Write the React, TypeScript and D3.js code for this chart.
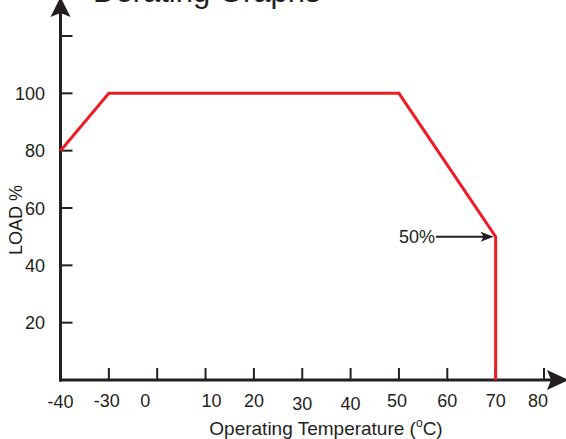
import React from "react";
import * as d3 from "d3";

const xCategories = ["-40", "-30", "0", "10", "20", "30", "40", "50", "60", "70", "80"];
const yTickValues = [20, 40, 60, 80, 100, 120];
const yTickLabels = ["20", "40", "60", "80", "100", ""];
const curveTemps = ["-40", "-30", "50", "70", "70"];
const curveLoads = [80, 100, 100, 50, 0];
const markerTemp = "70";
const markerLoad = 50;
const markerLabel = "50%";
const title = "Derating Graphs";
const xTitle = "Operating Temperature (";
const yTitle = "LOAD %";

const W = 566;
const H = 439;
const AXIS = "#231f20";
const RED = "#ed1c24";
const FONT = "'Liberation Sans', Arial, Helvetica, sans-serif";

// small horizontal nudges of tick labels as in the original artwork
const labelNudge: Record<string, number> = { "-30": -2, "0": -12, "10": 6, "50": -2, "80": -6 };
const labelDy: Record<string, number> = { "30": 3, "40": 3, "-40": 1 };

export default function App() {
  const x = d3.scalePoint<string>().domain(xCategories).range([60.5, 544]).padding(0);
  const y = d3.scaleLinear().domain([0, 120]).range([380, 36]);
  const x0 = x("-40") as number;
  const y0 = y(0);

  const line = d3
    .line<number>()
    .x((i) => x(curveTemps[i]) as number)
    .y((i) => y(curveLoads[i]));
  const pts = curveTemps.map((_, i) => i);

  const mx = x(markerTemp) as number;
  const my = y(markerLoad);

  return (
    <svg width={W} height={H} style={{ position: "absolute", left: 0, top: 0, background: "#fff" }}>
      <rect width={W} height={H} fill="#fff" />
      {/* title (cut at top) */}
      <text x={93} y={2} fontFamily={FONT} fontSize={31} fill={AXIS}>
        {title}
      </text>

      {/* y axis */}
      <line x1={x0} x2={x0} y1={12} y2={y0 + 1.5} stroke={AXIS} strokeWidth={3} />
      <path d={`M${x0},-3 L${x0 + 10},17 L${x0},13 L${x0 - 10},17 Z`} fill={AXIS} />
      {yTickValues.map((v, i) => (
        <g key={v}>
          <line x1={x0} x2={x0 + 12} y1={y(v)} y2={y(v)} stroke={AXIS} strokeWidth={2} />
          {yTickLabels[i] && (
            <text x={45} y={y(v) + 6.5} textAnchor="end" fontFamily={FONT} fontSize={18} fill={AXIS}>
              {yTickLabels[i]}
            </text>
          )}
        </g>
      ))}

      {/* x axis */}
      <line x1={x0 - 1.5} x2={552} y1={y0} y2={y0} stroke={AXIS} strokeWidth={3} />
      <path d={`M569,${y0} L547,${y0 - 10} L551,${y0} L547,${y0 + 10} Z`} fill={AXIS} />
      {xCategories.map((c, i) => (
        <g key={c}>
          {i > 0 && (
            <line
              x1={x(c) as number}
              x2={x(c) as number}
              y1={y0}
              y2={y0 - 12}
              stroke={AXIS}
              strokeWidth={2}
            />
          )}
          <text
            x={(x(c) as number) + (labelNudge[c] || 0)}
            y={407 + (labelDy[c] || 0)}
            textAnchor="middle"
            fontFamily={FONT}
            fontSize={18}
            fill={AXIS}
          >
            {c}
          </text>
        </g>
      ))}

      {/* axis titles */}
      <text x={326} y={435} textAnchor="middle" fontFamily={FONT} fontSize={19} fill={AXIS}>
        {xTitle}
        <tspan fontSize={12} dy={-8}>o</tspan>
        <tspan dy={8}>C)</tspan>
      </text>
      <text
        transform={`translate(22,${220}) rotate(-90)`}
        textAnchor="middle"
        fontFamily={FONT}
        fontSize={18}
        fill={AXIS}
      >
        {yTitle}
      </text>

      {/* derating curve */}
      <path d={line(pts) || ""} fill="none" stroke={RED} strokeWidth={3} strokeLinejoin="miter" />

      {/* 50% marker */}
      <text x={435} y={my + 6.5} textAnchor="end" fontFamily={FONT} fontSize={18} fill={AXIS}>
        {markerLabel}
      </text>
      <line x1={436} x2={484} y1={my} y2={my} stroke={AXIS} strokeWidth={2} />
      <path d={`M${mx - 2},${my} L${mx - 15},${my - 5} L${mx - 12},${my} L${mx - 15},${my + 5} Z`} fill={AXIS} />
    </svg>
  );
}
